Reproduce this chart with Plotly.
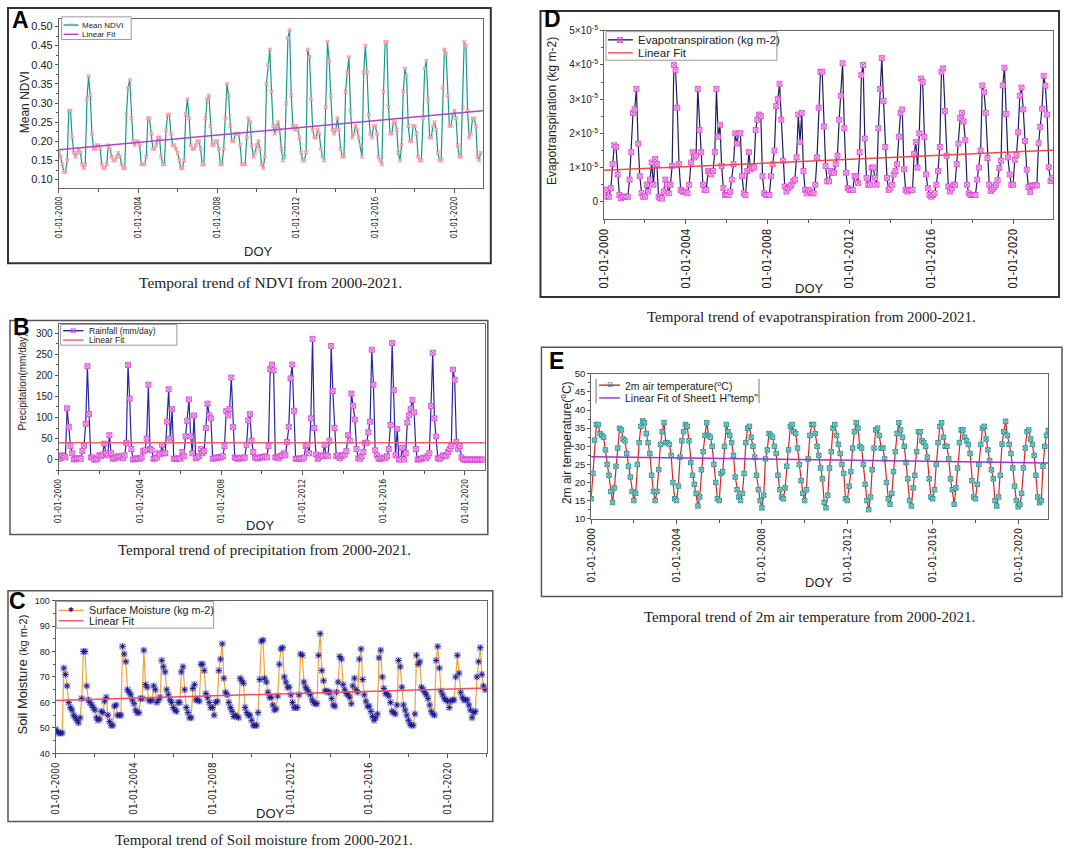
import numpy as np
import pandas as pd
import plotly.graph_objects as go

W, H = 1065, 856

# ---- values (monthly, starting Jan 2000) ----
ndvi = [
    0.17, 0.16, 0.14, 0.12, 0.12, 0.15, 0.28, 0.28, 0.21, 0.17, 0.16, 0.17,
    0.18, 0.17, 0.14, 0.13, 0.14, 0.31, 0.37, 0.32, 0.22, 0.18, 0.18, 0.19,
    0.19, 0.18, 0.14, 0.13, 0.13, 0.14, 0.19, 0.18, 0.16, 0.15, 0.15, 0.16,
    0.17, 0.16, 0.14, 0.13, 0.13, 0.27, 0.34, 0.36, 0.26, 0.20, 0.19, 0.20,
    0.20, 0.19, 0.14, 0.14, 0.14, 0.16, 0.26, 0.26, 0.22, 0.18, 0.18, 0.19,
    0.21, 0.21, 0.16, 0.14, 0.14, 0.23, 0.27, 0.27, 0.22, 0.19, 0.19, 0.18,
    0.17, 0.15, 0.13, 0.13, 0.15, 0.27, 0.31, 0.26, 0.19, 0.18, 0.18, 0.19,
    0.20, 0.20, 0.18, 0.14, 0.14, 0.26, 0.31, 0.32, 0.24, 0.19, 0.19, 0.20,
    0.20, 0.18, 0.14, 0.14, 0.18, 0.26, 0.35, 0.32, 0.24, 0.20, 0.20, 0.22,
    0.22, 0.22, 0.19, 0.14, 0.14, 0.14, 0.21, 0.26, 0.25, 0.19, 0.16, 0.17,
    0.19, 0.20, 0.18, 0.14, 0.13, 0.16, 0.35, 0.40, 0.44, 0.33, 0.24, 0.22,
    0.24, 0.25, 0.23, 0.18, 0.15, 0.16, 0.30, 0.47, 0.49, 0.32, 0.24, 0.23,
    0.24, 0.23, 0.21, 0.17, 0.15, 0.15, 0.17, 0.44, 0.42, 0.31, 0.23, 0.21,
    0.21, 0.23, 0.22, 0.18, 0.16, 0.15, 0.29, 0.46, 0.41, 0.32, 0.23, 0.22,
    0.23, 0.26, 0.23, 0.18, 0.16, 0.16, 0.33, 0.38, 0.42, 0.28, 0.21, 0.22,
    0.24, 0.23, 0.21, 0.19, 0.16, 0.38, 0.45, 0.38, 0.27, 0.22, 0.21, 0.24,
    0.24, 0.22, 0.16, 0.15, 0.14, 0.33, 0.46, 0.46, 0.29, 0.22, 0.22, 0.25,
    0.25, 0.23, 0.17, 0.15, 0.19, 0.33, 0.39, 0.37, 0.24, 0.20, 0.20, 0.24,
    0.24, 0.22, 0.16, 0.15, 0.15, 0.26, 0.39, 0.41, 0.31, 0.21, 0.21, 0.24,
    0.25, 0.23, 0.17, 0.15, 0.15, 0.34, 0.44, 0.43, 0.32, 0.24, 0.24, 0.27,
    0.28, 0.26, 0.19, 0.16, 0.16, 0.29, 0.46, 0.45, 0.28, 0.21, 0.22, 0.26,
    0.26, 0.24, 0.16, 0.15, 0.17,
]

rainfall = [
    2, 3, 10, 8, 5, 122, 78, 32, 15, 0, 2, 3,
    3, 2, 20, 33, 85, 222, 108, 5, 5, 0, 0, 2,
    10, 8, 12, 38, 15, 10, 58, 15, 2, 3, 5, 8,
    5, 8, 3, 10, 40, 225, 145, 25, 0, 2, 3, 2,
    2, 5, 20, 22, 50, 178, 25, 22, 2, 3, 5, 15,
    12, 35, 15, 15, 90, 167, 50, 120, 2, 2, 2, 3,
    2, 18, 8, 55, 92, 143, 55, 15, 105, 3, 5, 8,
    25, 15, 20, 75, 133, 105, 98, 2, 3, 5, 4, 6,
    5, 8, 32, 115, 105, 120, 195, 77, 5, 3, 2, 3,
    5, 3, 5, 35, 93, 108, 45, 18, 5, 3, 3, 5,
    6, 5, 8, 5, 32, 215, 226, 212, 5, 5, 3, 8,
    10, 15, 10, 42, 78, 193, 226, 116, 2, 2, 2, 3,
    2, 5, 32, 35, 15, 98, 287, 75, 12, 2, 5, 10,
    8, 35, 10, 8, 45, 270, 163, 75, 8, 10, 3, 8,
    10, 12, 20, 58, 45, 157, 128, 95, 25, 3, 2, 8,
    18, 40, 40, 65, 90, 261, 178, 22, 10, 2, 2, 3,
    5, 3, 8, 25, 82, 277, 165, 10, 73, 0, 0, 28,
    0, 15, 88, 105, 120, 142, 112, 25, 0, 0, 2, 3,
    5, 3, 8, 15, 127, 254, 98, 55, 3, 2, 5, 10,
    8, 10, 18, 25, 32, 214, 190, 42, 25, 32, 5, 0,
    0, 0, 0, 0, 0, 0, 0, 0, 0, 0, 0, 0,
]

soil_moisture = [
    49.5, 48.5, 48, 48, 48, 73.5, 71, 66.5, 60, 58, 57, 55,
    54, 53, 52, 54, 61.5, 80, 80, 66.5, 61, 60, 59, 58,
    57, 54, 53, 53.5, 56.5, 56, 60.5, 62, 55, 52.5, 51, 51,
    58.5, 59, 55, 55, 55, 82, 79, 76, 65, 64, 63, 61,
    59.5, 57, 56, 56, 61.5, 61.5, 80.5, 67, 66, 61, 60.5, 61,
    66.5, 65, 60, 61, 62, 76.5, 74, 72, 65, 63, 61, 60,
    58, 57, 56.5, 60, 60, 72, 74, 65, 58, 56, 54, 54,
    65.5, 67, 61, 61, 60.5, 75, 75, 72.5, 63.5, 62, 60, 58,
    58, 55, 60, 60.5, 72.5, 77, 83, 69.5, 64, 63, 60, 58,
    56.5, 54.5, 55, 54.5, 54, 69.5, 68.5, 67.5, 58, 56, 55, 55,
    53, 51, 51, 51, 56, 69, 84, 84.5, 69.5, 68, 64, 62,
    62, 59, 57, 57.5, 62.5, 75, 81, 81.5, 70, 68, 66, 66,
    63, 60, 58, 58, 58, 63, 79, 78.5, 68, 66, 65, 64,
    63, 61, 60, 59.5, 59.5, 78.5, 87, 72.5, 68.5, 64.5, 64.5, 64,
    64, 61.5, 59, 58.5, 64, 68, 78, 77, 67, 65, 63.5, 63,
    62, 59.5, 66.5, 69.5, 65, 64, 77, 81, 69, 63, 60.5, 58.5,
    58.5, 56.5, 54.5, 53, 54, 55.5, 77.5, 80.5, 70, 65.5, 63.5, 63.5,
    62.5, 60, 56.5, 56, 55.5, 59, 76.5, 74, 66, 59, 57, 55,
    53, 51.5, 51, 51, 55.5, 78.5, 75, 76, 66, 65, 64, 63,
    61.5, 59, 56.5, 55.5, 55, 76.5, 82, 73.5, 64.5, 63, 61.5, 61,
    60.5, 58, 60.5, 61, 61, 70, 78.5, 71.5, 64, 62, 61, 61,
    61, 59, 57, 54, 56, 56.5, 70, 76, 81.5, 71, 66.5, 65,
]

# evapotranspiration in units of 1e-6 kg m-2
evapo_e6 = [
    3.5, 3.5, 1.5, 1.5, 4, 11, 16.5, 16, 8, 2, 1, 1.5,
    1.5, 1.5, 1.5, 6.5, 14.5, 26, 27, 33, 17, 7.5, 2.5, 1.5,
    1.5, 5, 3, 6.5, 11.5, 5, 12.5, 11, 1.5, 1, 1, 3,
    6.5, 5, 2.5, 5, 10.5, 40, 38.5, 27.5, 11, 3.5, 3, 3,
    3, 2.5, 5, 11.5, 14.5, 13, 13.5, 33, 21, 14.5, 5, 3.5,
    3.5, 9, 8.5, 8, 9, 14.5, 33, 19, 22.5, 10.5, 4, 2,
    2, 2, 3, 6.5, 11, 20, 17, 20, 20, 7.5, 2.5, 2,
    9, 14.5, 9.5, 10, 10, 21, 24, 25.5, 25, 7.5, 2.5, 2,
    2, 2, 7.5, 11, 15, 28, 30, 34.5, 24, 12, 4.5, 3,
    4, 4.5, 5, 6, 6.5, 13, 25.5, 17.5, 26, 9, 3.5, 2.5,
    3.5, 3, 2.5, 2.5, 5, 13, 27.5, 38, 38, 22, 10.5, 6,
    6, 9, 8.5, 8.5, 11, 13.5, 24, 31, 40.5, 21.5, 8.5, 4,
    3.5, 3.5, 3.5, 7.5, 7.5, 5.5, 14.5, 37, 40, 18.5, 7, 5,
    5, 10, 10, 7, 5, 21.5, 33, 42, 29.5, 16, 7, 3.5,
    4, 5, 8, 9, 11, 19, 26, 27, 9.5, 3.5, 3, 3.5,
    3.5, 3.5, 14, 17.5, 10, 20, 36, 35, 19, 8, 4, 2,
    1.5, 2, 2.5, 5, 9, 16, 38, 39, 26.5, 13.5, 4.5, 3,
    4, 5, 5, 11, 17, 24.5, 26, 23.5, 18, 5, 2.5, 2,
    2, 2, 2, 6.5, 10, 15, 34, 32, 26, 12.8, 5, 3.2,
    3.7, 4.3, 5, 6.3, 9.9, 12, 34, 39.2, 25.7, 13, 8, 5,
    5, 12.3, 13.7, 20.3, 31, 33.4, 27, 17.8, 9.4, 4.3, 2.9, 4.8,
    4.8, 4.8, 4.8, 17.1, 21.9, 27.2, 36.8, 33.9, 25.5, 10.1, 6.1, 7,
]

air_temp = [
    15.5, 22.5, 31.7, 36, 36, 33.5, 33, 32.5, 29, 25, 22, 17.5,
    14.5, 18.5, 24.5, 29.5, 35, 34.5, 32, 31.5, 28, 24.5, 21.5, 17.5,
    15, 17, 25, 31, 35.5, 37, 36.5, 33.5, 31, 28, 22, 17.5,
    15, 17.5, 23.5, 30.5, 34, 36.5, 31, 31, 30.5, 27.5, 20, 15.5,
    15, 19, 27, 31.5, 34, 36, 35.5, 31.5, 25.5, 22, 19.5, 17,
    13.5, 16, 23.5, 28.5, 33, 36.5, 33, 32.5, 30, 25, 20, 15.5,
    15, 22.5, 23, 30, 36, 34, 33, 31, 27.5, 21.5, 18, 16,
    15, 17, 22.5, 31, 35, 35.5, 32.5, 30, 27, 22, 18, 15,
    13, 16.5, 26.5, 29, 33.5, 33, 32.5, 30, 28, 22, 18, 16,
    15.5, 18.5, 24.5, 29, 35.5, 36, 34, 33.5, 29.5, 25, 20.5, 17,
    15, 18, 26.5, 33, 36, 36, 33.5, 30, 27.5, 24, 21, 14.5,
    13, 16.5, 24, 28.5, 35, 36, 33, 30.5, 28, 25, 22.5, 15.5,
    15, 19, 23, 29.5, 34, 36.5, 35, 30, 29.5, 25, 19.5, 15,
    12.5, 16, 23.5, 29.5, 34.5, 35, 33, 29.5, 29.5, 26.5, 20, 15.5,
    14, 17, 23, 28.5, 33.5, 36.5, 34.5, 32.5, 30, 25.5, 21, 15,
    13.5, 18.5, 22, 28.5, 34, 34, 31.5, 31, 30, 27, 21, 16,
    15.5, 18, 25, 31, 35.5, 36.5, 32.5, 30, 30, 26.5, 21, 18,
    14, 18.5, 24, 31, 34.5, 34.5, 32.5, 31.5, 30.5, 28, 20.5, 16,
    15.5, 19.5, 25, 30.5, 35, 35.5, 32, 29, 26, 23.5, 21, 15,
    13.5, 16, 22, 30.6, 34, 36.9, 33, 30.5, 28, 24, 19, 15,
    13.3, 14, 17, 24, 29.5, 34, 34.5, 32, 30.5, 27.5, 22, 16,
    14.4, 15, 24.5, 30, 33, 34.4,
]

# linear fits (start, end values as drawn)
ndvi_fit = [0.178, 0.280]
rain_fit = [40, 40]
soil_fit = [60.8, 65.7]
evapo_fit_e6 = [9.2, 15.1]
temp_fit = [27.1, 25.4]

x_start = "2000-01-01"
x_end = {"A": "2021-06-10", "B": "2020-12-24", "C": "2022-01-01",
         "D": "2021-12-16", "E": "2021-05-28"}

SANS = "Liberation Sans, Arial, sans-serif"
NARROW = "Liberation Sans Narrow, Arial Narrow, DejaVu Sans Condensed, sans-serif"
SERIF = "Liberation Serif, Times New Roman, serif"
SYM = "DejaVu Sans, sans-serif"


def months(n):
    return pd.date_range(x_start, periods=n, freq="MS")


def fx(p):
    return p / W


def fy(p):
    return 1 - p / H


fig = go.Figure()

# plot areas in pixels: (left, right, top, bottom)
boxes = {
    "A": (52.3, 479, 12, 184),
    "B": (52, 481, 321, 470),
    "C": (49, 483, 602, 757),
    "D": (601, 1053, 24, 215),
    "E": (588, 1048, 372, 519),
}
axis_id = {"A": "", "B": "2", "C": "3", "D": "4", "E": "5"}
xtick_size = {"A": 8, "B": 8.5, "C": 10, "D": 11.5, "E": 10.5}

layout = dict(
    width=W, height=H, margin=dict(l=0, r=0, t=0, b=0),
    paper_bgcolor="white", plot_bgcolor="white",
    showlegend=False, font=dict(family=SANS, color="#222"),
)

for key, (l, r, t, b) in boxes.items():
    n = axis_id[key]
    layout["xaxis" + n] = dict(
        domain=[fx(l), fx(r)], anchor="y" + n, type="date",
        range=[x_start, x_end[key]],
        tick0=x_start, dtick="M48", tickformat="%d-%m-%Y", tickangle=-90,
        ticks="outside", ticklen=4, tickcolor="#555",
        minor=dict(dtick="M24", ticks="outside", ticklen=3, tickcolor="#555"),
        showline=True, mirror=True, linecolor="#666", linewidth=1,
        showgrid=False, zeroline=False,
        tickfont=dict(family=NARROW, size=xtick_size[key], color="#222"),
    )

yaxes = {
    "A": dict(range=[0.077, 0.52], tick0=0.1, dtick=0.05, tickformat=".2f",
              minor=dict(dtick=0.025), tickfont=dict(size=11)),
    "B": dict(range=[-25.8, 323.5], tick0=0, dtick=50,
              minor=dict(dtick=25), tickfont=dict(size=10)),
    "C": dict(range=[40, 100], tick0=40, dtick=10,
              minor=dict(dtick=5), tickfont=dict(size=9)),
    "D": dict(range=[-5e-6, 5e-5], tickmode="array",
              tickvals=[0, 1e-5, 2e-5, 3e-5, 4e-5, 5e-5],
              ticktext=["0"] + ["%d×10<sup>-5</sup>" % k for k in range(1, 6)],
              minor=dict(tickmode="array", tickvals=[5e-6, 1.5e-5, 2.5e-5, 3.5e-5, 4.5e-5]),
              tickfont=dict(size=10)),
    "E": dict(range=[10, 50], tick0=10, dtick=5,
              minor=dict(dtick=2.5), tickfont=dict(size=9.5)),
}

for key, (l, r, t, b) in boxes.items():
    n = axis_id[key]
    ya = dict(
        domain=[fy(b), fy(t)], anchor="x" + n,
        ticks="outside", ticklen=3, tickcolor="#555",
        showline=True, mirror=True, linecolor="#666", linewidth=1,
        showgrid=False, zeroline=False,
    )
    ya.update(yaxes[key])
    ya["minor"].update(ticks="outside", ticklen=2, tickcolor="#555")
    ya["tickfont"].update(family=SANS, color="#222")
    layout["yaxis" + n] = ya

fig.update_layout(**layout)

# ---- traces ----
series = [
    # key, values, line colour, marker, halo colour, fit values, fit colour
    ("A", ndvi, "#17998a",
     dict(symbol="x", size=4, color="#f4a3ac"), None,
     ndvi_fit, "#b044cc"),
    ("B", rainfall, "#2626a6",
     dict(symbol="square-x", size=5, color="#f6c4f0", line=dict(color="#d43fd4", width=0.8)), None,
     rain_fit, "#f0606c"),
    ("C", soil_moisture, "#f3a23a",
     dict(symbol="asterisk-open", size=5, color="#1c1c8e", line=dict(color="#1c1c8e", width=1)),
     "rgba(150,150,235,0.45)",
     soil_fit, "#f04f62"),
    ("D", list(np.array(evapo_e6) * 1e-6), "#1e1e5e",
     dict(symbol="square-x", size=5, color="#f8c6f2", line=dict(color="#e040d4", width=0.8)), None,
     list(np.array(evapo_fit_e6) * 1e-6), "#f04848"),
    ("E", air_temp, "#e22222",
     dict(symbol="square-x", size=4.5, color="#a8e6e6", line=dict(color="#1b8a8a", width=0.8)), None,
     temp_fit, "#9a35cc"),
]

for key, vals, lcol, marker, halo, fit, fcol in series:
    n = axis_id[key]
    dates = months(len(vals))
    if halo:
        fig.add_trace(go.Scatter(
            x=dates, y=vals, mode="markers",
            marker=dict(symbol="square", size=7, color=halo),
            xaxis="x" + n, yaxis="y" + n, hoverinfo="skip",
        ))
    fig.add_trace(go.Scatter(
        x=dates, y=vals, mode="lines+markers",
        line=dict(color=lcol, width=1.2), marker=marker,
        xaxis="x" + n, yaxis="y" + n, hoverinfo="skip",
    ))
    fig.add_trace(go.Scatter(
        x=[x_start, x_end[key]], y=fit, mode="lines",
        line=dict(color=fcol, width=1.5),
        xaxis="x" + n, yaxis="y" + n, hoverinfo="skip",
    ))

# ---- decorations: panel frames, letters, axis titles, captions ----
shapes = []


def rect(x0, x1, y0, y1, col, wid, fill="rgba(0,0,0,0)"):
    shapes.append(dict(type="rect", xref="paper", yref="paper",
                       x0=fx(x0), x1=fx(x1), y0=fy(y1), y1=fy(y0),
                       line=dict(color=col, width=wid), fillcolor=fill))


def hline(x0, x1, y, col, wid):
    shapes.append(dict(type="line", xref="paper", yref="paper",
                       x0=fx(x0), x1=fx(x1), y0=fy(y), y1=fy(y),
                       line=dict(color=col, width=wid)))


def note(text, x, y, size, family=SANS, angle=0, bold=False, color="#222", anchor="center"):
    fig.add_annotation(
        text="<b>%s</b>" % text if bold else text,
        x=fx(x), y=fy(y), xref="paper", yref="paper",
        xanchor=anchor, yanchor="middle", showarrow=False,
        textangle=angle, font=dict(family=family, size=size, color=color),
    )


for x0, x1, y0, y1, col, wid in [
    (1, 487, 1, 260, "#333", 2),
    (3, 484, 318, 535, "#555", 1.5),
    (1, 489, 592, 826, "#555", 1.5),
    (537, 1059, 4, 294, "#333", 2),
    (538, 1062, 345, 598, "#555", 1.5),
]:
    rect(x0, x1, y0, y1, col, wid)

# legends drawn by hand (Origin-style compact boxes)
legend_specs = [
    # box (x0, x1, y0, y1), line x0, x1, text x, font, rows
    ((55, 125, 10, 33), 57, 72, 73.5, 8,
     [(18.3, "#17998a", "×", "#f08a96", 7, "Mean NDVI"),
      (27.7, "#b044cc", None, None, 0, "Linear Fit")]),
    ((54, 171, 322, 343), 56.5, 77, 80.5, 8.5,
     [(328.3, "#2626a6", "⊠", "#d43fd4", 7.5, "Rainfall (mm/day)"),
      (337.8, "#f0606c", None, None, 0, "Linear Fit")]),
    ((49.5, 208, 603, 630), 52, 77, 80.5, 10.8,
     [(612, "#f3a23a", "✱", "#1c1c8e", 7, "Surface Moisture (kg m-2)"),
      (622.5, "#f04f62", None, None, 0, "Linear Fit")]),
    ((603, 775, 25, 54), 605, 630, 633, 11.5,
     [(33.3, "#1e1e5e", "⊠", "#e040d4", 9, "Evapotranspiration (kg m-2)"),
      (46.5, "#f04848", None, None, 0, "Linear Fit")]),
    ((593, 757, 377, 402), 596, 617, 620.5, 10.5,
     [(383.5, "#e22222", "⊠", "#1b8a8a", 7, "2m air temperature(<sup>o</sup>C)"),
      (396.5, "#9a35cc", None, None, 0, 'Linear Fit of Sheet1 H"temp"')]),
]
for i, (bx, lx0, lx1, tx, fs, rows) in enumerate(legend_specs):
    if i == 4:
        rect(bx[0], bx[1], bx[2], bx[3], "rgba(0,0,0,0)", 0, fill="white")
        for vx in (bx[0], bx[1]):
            shapes.append(dict(type="line", xref="paper", yref="paper",
                               x0=fx(vx), x1=fx(vx), y0=fy(bx[3]), y1=fy(bx[2]),
                               line=dict(color="#777", width=1)))
    else:
        rect(bx[0], bx[1], bx[2], bx[3], "#999", 1, fill="white")
    for ry, lcol, glyph, gcol, gsize, label in rows:
        hline(lx0, lx1, ry, lcol, 1.4)
        if glyph:
            note(glyph, (lx0 + lx1) / 2, ry, gsize, family=SYM, color=gcol)
        note(label, tx, ry, fs, anchor="left")

fig.update_layout(shapes=shapes)

for letter, lx, ly in [("A", 14, 13), ("B", 14.5, 325), ("C", 11, 602),
                       ("D", 549, 12), ("E", 553, 359)]:
    note(letter, lx, ly, 23, bold=True, color="black")

# y-axis titles
note("Mean NDVI", 17.7, 97, 12, angle=-90)
note("Precipitation(mm/day)", 16, 380, 10, angle=-90)
note("Soil Moisture <span style='font-size:11px'>(kg m-2)</span>", 16, 677, 13, angle=-90)
note("Evapotranspiration (kg m-2)", 548, 105, 12, angle=-90)
note("2m air temperature(<sup>o</sup>C)", 562, 442, 12, angle=-90)

# x-axis titles
for dx, dy in [(253, 248), (255, 526), (265, 818), (808, 285), (818, 584)]:
    note("DOY", dx, dy, 13)

# captions
note("Temporal trend of NDVI from 2000-2021.", 265, 279, 15.5, family=SERIF)
note("Temporal trend of precipitation from 2000-2021.", 259, 551, 15, family=SERIF)
note("Temporal trend of Soil moisture from 2000-2021.", 259, 845, 15, family=SERIF)
note("Temporal trend of evapotranspiration from 2000-2021.", 810, 314, 15, family=SERIF)
note("Temporal trend of 2m air temperature from 2000-2021.", 808, 619, 15, family=SERIF)

# the page's default body margin would shift the figure by 8px
fig.write_html("out.html", config={"displayModeBar": False},
               post_script="document.body.style.margin='0px';")
